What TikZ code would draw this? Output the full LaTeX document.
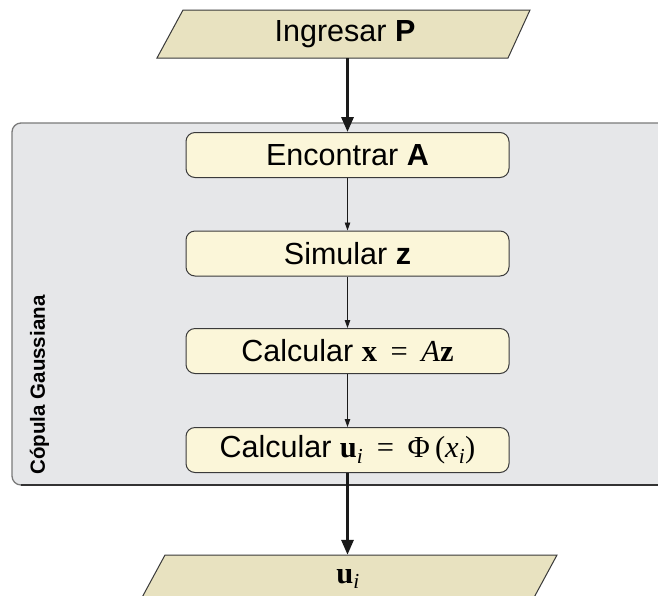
\documentclass[tikz,border=0pt]{standalone}
\usepackage{fontspec}
\setmainfont{Liberation Sans}
\newfontfamily\tms{Liberation Serif}
\usetikzlibrary{arrows.meta,calc}
\definecolor{parafill}{HTML}{E8E2C0}
\definecolor{boxfill}{HTML}{FBF6D9}
\definecolor{contfill}{HTML}{E6E7E9}
\definecolor{contline}{HTML}{7A7A7A}
\definecolor{contdark}{HTML}{333333}
\definecolor{boxline}{HTML}{3A3A3A}
\definecolor{arrowcol}{HTML}{1A1A1A}
\tikzset{
  stepbox/.style={draw=boxline, line width=1pt, fill=boxfill, rounded corners=9pt,
    minimum width=323pt, minimum height=45pt, inner sep=0pt, font=\fontsize{30.5}{32}\selectfont},
  paratext/.style={inner sep=0pt, minimum width=350pt, minimum height=48pt, font=\fontsize{30.5}{32}\selectfont},
  para/.style={draw=boxline, line width=1pt, fill=parafill},
  bigarrow/.style={draw=arrowcol, line width=3pt, -{Triangle[length=15pt,width=12pt]}},
  smallarrow/.style={draw=arrowcol, line width=0.8pt, -{Triangle[length=8pt,width=5.5pt]}},
}
\begin{document}
\begin{tikzpicture}[x=1pt,y=-1pt]
\clip (0,0) rectangle (658,595);
\fill[white] (0,0) rectangle (658,595);
% container
\draw[fill=contfill, draw=contline, line width=1.3pt, rounded corners=9pt]
  (12,123) rectangle (690,485);
\draw[draw=contdark, line width=1.3pt] (21,485) -- (658,485);
\node[rotate=90, font=\fontsize{20.5}{22}\selectfont\bfseries] (lbl) at (39.5,385) {Cópula Gaussiana};
% input parallelogram
\coordinate (pa1) at (157,58);
\coordinate (pa2) at (183,10);
\coordinate (pa3) at (530,10);
\coordinate (pa4) at (508,58);
\draw[para] (pa1) -- (pa2) -- (pa3) -- (pa4) -- cycle;
\node[paratext] (inp) at (345,34) {Ingresar \textbf{P}};
% steps
\node[stepbox] (s1) at (347.5,155) {Encontrar \textbf{A}};
\node[stepbox] (s2) at (347.5,253.5) {Simular \textbf{z}};
\node[stepbox] (s3) at (347.5,351) {Calcular {\tms\bfseries x} \,{\tms =}\, {\tms\itshape A}{\tms\bfseries z}};
\node[stepbox] (s4) at (347.5,450) {Calcular {\tms\bfseries u}\textsubscript{\tms\itshape i} \,{\tms =}\, {\tms Φ}\,{\tms(}{\tms\itshape x}\textsubscript{\tms\itshape i}{\tms)}};
% output parallelogram
\coordinate (pb1) at (139,603);
\coordinate (pb2) at (165,555);
\coordinate (pb3) at (557,555);
\coordinate (pb4) at (531,603);
\draw[para] (pb1) -- (pb2) -- (pb3) -- (pb4) -- cycle;
\node[paratext, minimum width=370pt] (out) at (348,579) {{\tms\bfseries u}\textsubscript{\tms\itshape i}};
% connectors
\draw[bigarrow] (inp.south -| s1.north) -- (s1.north);
\draw[smallarrow] (s1) -- (s2);
\draw[smallarrow] (s2) -- (s3);
\draw[smallarrow] (s3) -- (s4);
\draw[bigarrow] (s4.south) -- (s4.south |- out.north);
\end{tikzpicture}
\end{document}
